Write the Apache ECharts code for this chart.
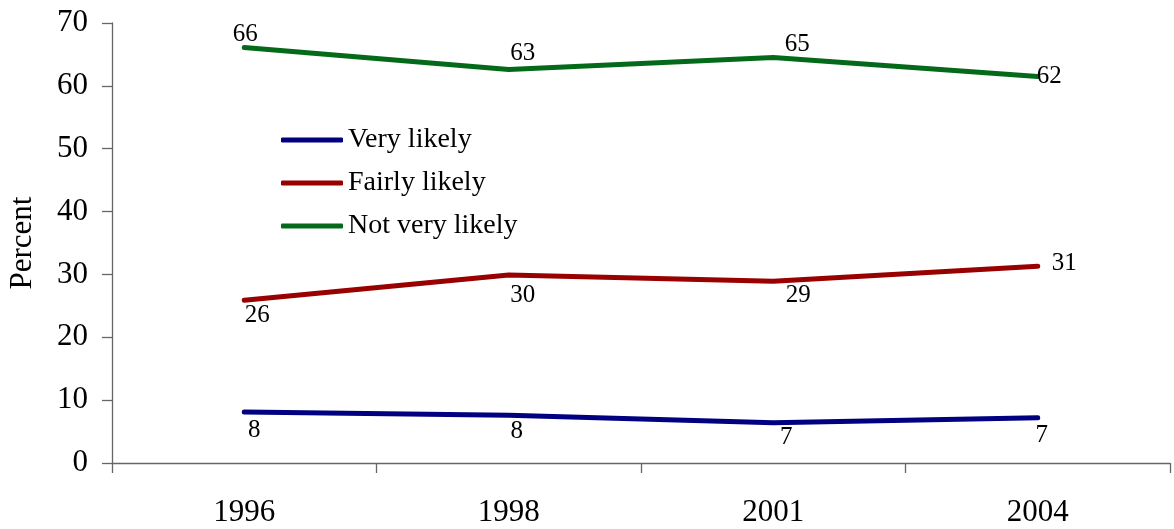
<!DOCTYPE html>
<html><head><meta charset="utf-8">
<script src="https://cdn.jsdelivr.net/npm/echarts@6/dist/echarts.min.js"></script>
<style>html,body{margin:0;padding:0;background:#fff}#c{width:1174px;height:529px}</style>
</head><body><div id="c"></div>
<script>
const categories = ['1996', '1998', '2001', '2004'];
const veryLikely = [8.1, 7.6, 6.4, 7.2];
const fairlyLikely = [25.9, 29.9, 28.9, 31.3];
const notVeryLikely = [66.1, 62.6, 64.5, 61.5];
const veryLabels = ['8', '8', '7', '7'];
const fairlyLabels = ['26', '30', '29', '31'];
const notVeryLabels = ['66', '63', '65', '62'];
const yTicks = [0, 10, 20, 30, 40, 50, 60, 70];

const FONT = '"Liberation Serif", "Times New Roman", serif';

// label placement styles (separate from data)
const veryLabelPos = ['bottom', 'bottom', 'bottom', 'bottom'];
const veryLabelShift = [[10, 2], [8, 0], [13, -2], [4, 1]];
const fairlyLabelPos = ['bottom', 'bottom', 'bottom', 'right'];
const fairlyLabelShift = [[13, -1], [14, 4], [25, -2], [10, -3]];
const notVeryLabelPos = ['top', 'top', 'top', 'right'];
const notVeryLabelShift = [[1, 3], [14, 0], [24, 3], [-5, 0]];

function build(values, texts, pos) {
  return values.map((v, i) => ({
    value: v,
    label: {show: true, formatter: texts[i], position: pos[i]}
  }));
}

function series(name, values, texts, pos, shift, color) {
  return {
    name: name, type: 'line', data: build(values, texts, pos),
    symbol: 'circle', symbolSize: 0.01, showSymbol: true,
    lineStyle: {color: color, width: 5, cap: 'round', join: 'round'},
    itemStyle: {color: color},
    label: {show: true, color: '#000', fontFamily: FONT, fontSize: 25, distance: 4},
    labelLayout: function (p) {
      const s = shift[p.dataIndex] || [0, 0];
      return {x: p.labelRect.x + s[0], y: p.labelRect.y + s[1], hideOverlap: false};
    },
    emphasis: {disabled: true}, animation: false
  };
}

const chart = echarts.init(document.getElementById('c'));
chart.setOption({
  backgroundColor: '#fff',
  animation: false,
  grid: {left: 112, right: 4, top: 23, bottom: 66, containLabel: false, outerBoundsMode: 'none'},
  legend: {
    left: 281, top: 126, orient: 'vertical', itemWidth: 62, itemHeight: 5, itemGap: 15,
    padding: 0, icon: 'roundRect',
    textStyle: {fontFamily: FONT, fontSize: 28, color: '#000'},
    data: ['Very likely', 'Fairly likely', 'Not very likely']
  },
  xAxis: {
    type: 'category', data: categories, boundaryGap: true,
    axisLine: {lineStyle: {color: '#666', width: 1.3}},
    axisTick: {show: true, length: 10, lineStyle: {color: '#666', width: 1.3}},
    axisLabel: {fontFamily: FONT, fontSize: 31, color: '#000', margin: 34}
  },
  yAxis: {
    type: 'value', min: 0, max: 70, interval: 10,
    name: 'Percent', nameLocation: 'middle', nameGap: 74, nameRotate: 90,
    nameTextStyle: {fontFamily: FONT, fontSize: 31, color: '#000'},
    axisLine: {show: true, lineStyle: {color: '#666', width: 1.3}},
    axisTick: {show: true, length: 10, lineStyle: {color: '#666', width: 1.3}},
    splitLine: {show: false},
    axisLabel: {fontFamily: FONT, fontSize: 31, color: '#000', margin: 24,
      formatter: v => yTicks.includes(v) ? String(v) : ''}
  },
  series: [
    series('Very likely', veryLikely, veryLabels, veryLabelPos, veryLabelShift, '#000080'),
    series('Fairly likely', fairlyLikely, fairlyLabels, fairlyLabelPos, fairlyLabelShift, '#990000'),
    series('Not very likely', notVeryLikely, notVeryLabels, notVeryLabelPos, notVeryLabelShift, '#05691a')
  ]
});
</script></body></html>
